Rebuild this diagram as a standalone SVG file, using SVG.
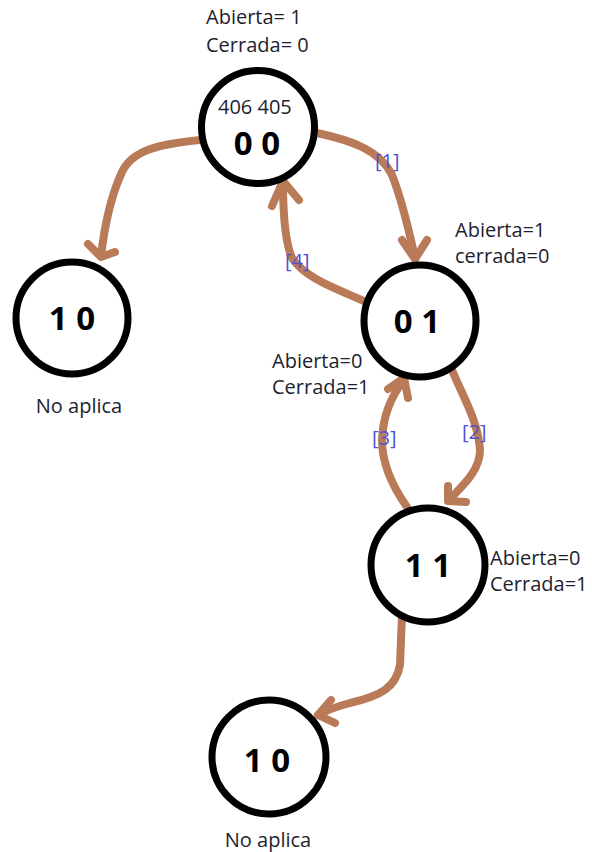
<svg xmlns="http://www.w3.org/2000/svg" width="592" height="852" viewBox="0 0 592 852">
<style>
.node{fill:#fff;stroke:#000;stroke-width:7}
.num{font-family:"Open Sans","Liberation Sans",sans-serif;font-size:33px;font-weight:bold;fill:#000;text-anchor:middle}
.lbl{font-family:"Open Sans","Liberation Sans",sans-serif;font-size:20px;fill:#1e1e30}
.mid{text-anchor:middle}
.tag{font-family:"Open Sans","Liberation Sans",sans-serif;font-size:20px;fill:#5050d4}
.edge{fill:none;stroke:#b97b57;stroke-width:8;stroke-linecap:round;stroke-linejoin:round}
</style>
<rect width="592" height="852" fill="#fff"/>
<g id="connectors">
<path class="edge" d="M200,140 C160,144 132,150 122,172 C110,198 104,230 101,256"/>
<polyline class="edge" points="88,244 101,257 115,252"/>
<path class="edge" d="M317,133 C350,140 380,150 392,175 C402,200 410,235 415,258"/>
<polyline class="edge" points="402,240 415,259 427,240"/>
<path class="edge" d="M366,302 C335,288 305,278 292,258 C284,240 283,210 283,182"/>
<polyline class="edge" points="272,206 283,181 299,200"/>
<path class="edge" d="M452,370 C462,395 478,420 480,450 C480,472 460,488 449,500"/>
<polyline class="edge" points="448,486 448,501 466,502"/>
<path class="edge" d="M407,507 C395,490 382,465 382,440 C383,415 392,395 404,380"/>
<polyline class="edge" points="388,389 404,378 408,398"/>
<path class="edge" d="M402,615 L400,665 C396,688 380,696 350,703 C335,707 325,711 318,715"/>
<polyline class="edge" points="331,700 318,715 335,723"/>
</g>
<g id="node-00">
<circle class="node" cx="258" cy="127" r="56.5"/>
<text class="lbl" x="218" y="114">406 405</text>
<text class="num" x="257" y="155">0 0</text>
<text class="lbl" x="206" y="24">Abierta= 1</text>
<text class="lbl" x="206" y="52">Cerrada= 0</text>
</g>
<g id="node-10a">
<circle class="node" cx="72" cy="318" r="56"/>
<text class="num" x="72" y="330" font-weight="600">1 0</text>
<text class="lbl mid" x="79" y="413">No aplica</text>
</g>
<g id="node-01">
<circle class="node" cx="420" cy="321" r="56"/>
<text class="num" x="417" y="333">0 1</text>
<text class="lbl" x="455" y="237">Abierta=1</text>
<text class="lbl" x="455" y="263">cerrada=0</text>
<text class="lbl" x="272" y="368">Abierta=0</text>
<text class="lbl" x="272" y="394">Cerrada=1</text>
</g>
<g id="node-11">
<circle class="node" cx="428" cy="565" r="57"/>
<text class="num" x="428" y="577">1 1</text>
<text class="lbl" x="490" y="565">Abierta=0</text>
<text class="lbl" x="490" y="591">Cerrada=1</text>
</g>
<g id="node-10b">
<circle class="node" cx="269" cy="757" r="57"/>
<text class="num" x="267" y="772" font-weight="600">1 0</text>
<text class="lbl mid" x="268" y="847">No aplica</text>
</g>
<g id="labels">
<text class="tag" x="375" y="168">[1]</text>
<text class="tag" x="285" y="268">[4]</text>
<text class="tag" x="462" y="439">[2]</text>
<text class="tag" x="372" y="445">[3]</text>
</g>
</svg>
